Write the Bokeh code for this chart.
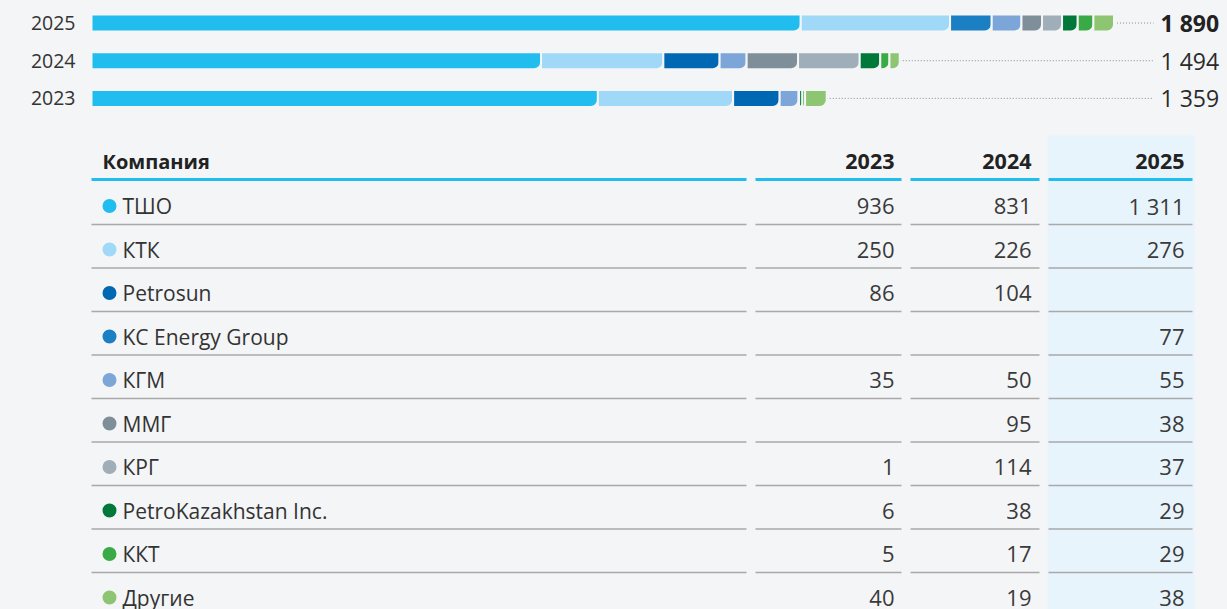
from bokeh.plotting import figure
from bokeh.models import ColumnDataSource, Range1d
from bokeh.layouts import column
from bokeh.core.properties import value
from bokeh.embed import file_html
from bokeh.resources import INLINE

# ---------------- data ----------------
companies = ["ТШО", "КТК", "Petrosun", "KC Energy Group", "КГМ", "ММГ", "КРГ",
             "PetroKazakhstan Inc.", "ККТ", "Другие"]
colors = ["#21bdef", "#a0d8f7", "#0068b3", "#1b7fc4", "#7da6d8", "#7e8f99",
          "#9faeb8", "#00783a", "#3aaa47", "#8dc572"]
v2023 = [936, 250, 86, None, 35, None, 1, 6, 5, 40]
v2024 = [831, 226, 104, None, 50, 95, 114, 38, 17, 19]
v2025 = [1311, 276, None, 77, 55, 38, 37, 29, 29, 38]
years = ["2025", "2024", "2023"]
series = {"2023": v2023, "2024": v2024, "2025": v2025}
header = ["Компания", "2023", "2024", "2025"]

BG = "#f4f5f7"
FONT = "Open Sans"
W = 1227
TOP_H = 128
TAB_H = 481


def fmt(v):
    if v is None:
        return ""
    return f"{v:,}".replace(",", " ")


def style(p):
    p.background_fill_color = BG
    p.border_fill_color = BG
    p.outline_line_color = None
    p.xgrid.visible = False
    p.ygrid.visible = False
    p.xaxis.visible = False
    p.yaxis.visible = False
    p.min_border = 0


# ---------------- stacked bars ----------------
PX_PER_UNIT = 0.541
X0_PX = 91
x_start = -X0_PX / PX_PER_UNIT
x_end = (W - X0_PX) / PX_PER_UNIT
ROW_PX = 37.7
Y0_PX = 22.5
top = figure(width=W, height=TOP_H, output_backend="svg", toolbar_location=None,
             x_range=Range1d(x_start, x_end),
             y_range=Range1d((TOP_H - Y0_PX) / ROW_PX, -Y0_PX / ROW_PX))
style(top)

bl, br, by, bc = [], [], [], []
totals = []
for yi, yr in enumerate(years):
    acc = 0
    for ci, v in enumerate(series[yr]):
        if v:
            bl.append(acc)
            br.append(acc + v)
            by.append(yi)
            bc.append(colors[ci])
            acc += v
    totals.append(acc)

dot_end = (1153 - X0_PX) / PX_PER_UNIT
lab_x = (1160 - X0_PX) / PX_PER_UNIT
top.segment(x0=totals, x1=[dot_end] * 3, y0=list(range(3)), y1=list(range(3)),
            line_color="#8a8a8a", line_width=1, line_dash="1 2")

top.hbar(y="y", left="l", right="r", height=17 / ROW_PX, color="c",
         line_color=BG, line_width=2, border_radius=(0, 0, 7, 0),
         source=ColumnDataSource(dict(y=by, l=bl, r=br, c=bc)))

top.text(x=[-16 / PX_PER_UNIT] * 3, y=list(range(3)), text=years,
         text_font=value(FONT), text_font_size="19.5px", text_color="#333333",
         text_align="right", text_baseline="middle")
top.text(x=[lab_x], y=[0], text=[fmt(totals[0])], text_font=value(FONT),
         text_font_size="23px", text_font_style="bold", text_color="#222222",
         text_baseline="middle")
top.text(x=[lab_x] * 2, y=[1, 2], text=[fmt(t) for t in totals[1:]],
         text_font=value(FONT), text_font_size="23px", text_color="#2a2a2a",
         text_baseline="middle")

# ---------------- table ----------------
tab = figure(width=W, height=TAB_H, output_backend="svg", toolbar_location=None,
             x_range=Range1d(0, W), y_range=Range1d(TAB_H, 0))
style(tab)

col_l = [91, 755, 910, 1048]
col_r = [746, 901, 1039, 1192]
txt_r = [894, 1031, 1184]
HEAD_Y = 33
LINE_Y = 51
ROW0 = 77.5
ROW_H = 43.5

tab.quad(left=[1047], right=[1194], top=[7], bottom=[TAB_H + 10],
         fill_color="#e8f4fc", line_color=None)

tab.segment(x0=col_l, x1=col_r, y0=[LINE_Y] * 4, y1=[LINE_Y] * 4,
            line_color="#21bdef", line_width=3)
sx0, sx1, sy = [], [], []
for k in range(len(companies) - 1):
    for a, b in zip(col_l, col_r):
        sx0.append(a)
        sx1.append(b)
        sy.append(96 + ROW_H * k)
tab.segment(x0=sx0, x1=sx1, y0=sy, y1=sy, line_color="#a9a9a9", line_width=1.5)

tab.text(x=[102], y=[HEAD_Y], text=[header[0]], text_font=value(FONT),
         text_font_size="20px", text_font_style="bold", text_color="#222222",
         text_baseline="middle")
tab.text(x=txt_r, y=[HEAD_Y] * 3, text=header[1:], text_font=value(FONT),
         text_font_size="21.5px", text_font_style="bold", text_color="#222222",
         text_align="right", text_baseline="middle")

ry = [ROW0 + ROW_H * i for i in range(len(companies))]
tab.scatter(x=[109] * len(companies), y=ry, size=14, color=colors, line_color=None)
tab.text(x=[122] * len(companies), y=ry, text=companies, text_font=value(FONT),
         text_font_size="21px", text_color="#333333", text_baseline="middle")
for xr, yr in zip(txt_r, ["2023", "2024", "2025"]):
    tab.text(x=[xr] * len(companies), y=ry, text=[fmt(v) for v in series[yr]],
             text_font=value(FONT), text_font_size="22px", text_color="#3a3a3a",
             text_align="right", text_baseline="middle")

layout = column(top, tab, spacing=0)
html = file_html(layout, INLINE)
html = html.replace("</head>", "<style>html,body{background:#f4f5f7;}</style></head>", 1)
open("out.html", "w").write(html)
